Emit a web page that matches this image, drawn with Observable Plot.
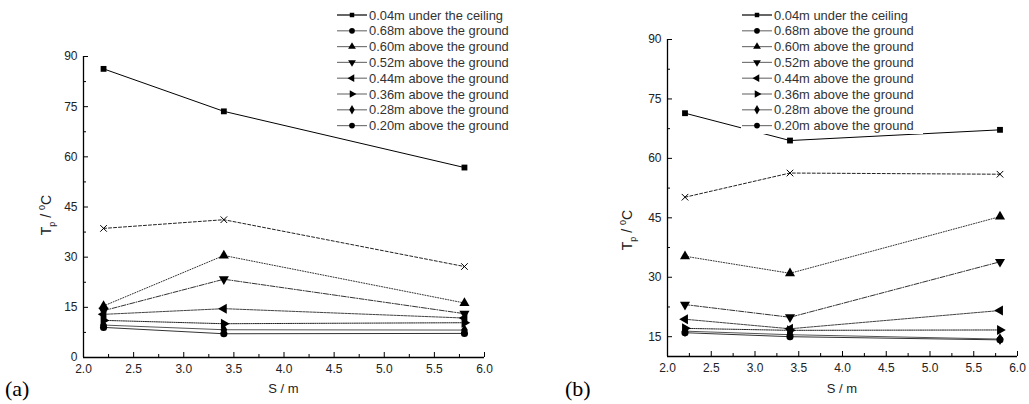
<!DOCTYPE html>
<html><head><meta charset="utf-8">
<script src="https://cdn.jsdelivr.net/npm/d3@7"></script>
<script src="https://cdn.jsdelivr.net/npm/@observablehq/plot@0.6"></script>
<style>
body{margin:0;background:#fff;}
#wrap{position:relative;width:1029px;height:404px;overflow:hidden;background:#fff;}
#wrap svg{position:absolute;overflow:visible;}
</style></head>
<body><div id="wrap"></div>
<script>
// ---- data ----
const S = [2.2, 3.4, 5.8];
const seriesNames = [
  "0.04m under the ceiling",
  "0.68m above the ground",
  "0.60m above the ground",
  "0.52m above the ground",
  "0.44m above the ground",
  "0.36m above the ground",
  "0.28m above the ground",
  "0.20m above the ground"
];
// panel (a)
const aCeiling = [86.3, 73.6, 56.8];
const a068 = [38.6, 41.2, 27.2];
const a060 = [15.4, 30.5, 16.3];
const a052 = [14.0, 23.4, 13.1];
const a044 = [12.9, 14.6, 11.8];
const a036 = [11.1, 10.1, 10.4];
const a028 = [9.7, 8.3, 8.2];
const a020 = [9.0, 7.1, 7.2];
// panel (b)
const bCeiling = [71.4, 64.5, 67.2];
const b068 = [50.2, 56.3, 56.0];
const b060 = [35.3, 31.0, 45.3];
const b052 = [23.1, 19.9, 33.9];
const b044 = [19.4, 17.0, 21.6];
const b036 = [17.1, 16.6, 16.7];
const b028 = [16.4, 15.5, 14.4];
const b020 = [16.0, 15.0, 14.2];
// ticks
const xTicks = [2.0, 2.5, 3.0, 3.5, 4.0, 4.5, 5.0, 5.5, 6.0];
const xMinor = [2.25, 2.75, 3.25, 3.75, 4.25, 4.75, 5.25, 5.75];
const yTicksA = [0, 15, 30, 45, 60, 75, 90];
const yMinorA = [7.5, 22.5, 37.5, 52.5, 67.5, 82.5];
const yTicksB = [15, 30, 45, 60, 75, 90];
const yMinorB = [22.5, 37.5, 52.5, 67.5, 82.5];

// ---- symbols ----
function tri(angle){
  return {draw(ctx, size){
    const y = -Math.sqrt(size / (Math.sqrt(3) * 3));
    const pts = [[0, 2*y], [-Math.sqrt(3)*y, -y], [Math.sqrt(3)*y, -y]];
    const c = Math.cos(angle), s = Math.sin(angle);
    pts.forEach(([px, py], i) => { const X = px*c - py*s, Y = px*s + py*c; i ? ctx.lineTo(X, Y) : ctx.moveTo(X, Y); });
    ctx.closePath();
  }};
}
const plotSymbols = [d3.symbolSquare, d3.symbolTimes, tri(0), tri(Math.PI), tri(-Math.PI/2), tri(Math.PI/2), d3.symbolDiamond, d3.symbolCircle];
const legendSymbols = [d3.symbolSquare, d3.symbolCircle, tri(0), tri(Math.PI), tri(-Math.PI/2), tri(Math.PI/2), d3.symbolDiamond, d3.symbolCircle];
const sizes = [34, 30, 44, 44, 44, 44, 40, 40];
const dashes = [null, "3,2", "1,1.6", "5,1.5,1,1.5", "2.5,1", "1.2,1", null, null];
const strokes = ["#000", "#222", "#333", "#333", "#444", "#222", "#555", "#333"];

const FONT = "'Liberation Sans', Arial, sans-serif";
const wrap = document.getElementById("wrap");

function makePanel(values, cfg){
  const marks = [];
  values.forEach((vals, i) => {
    const rows = S.map((s, j) => ({S: s, T: vals[j]}));
    marks.push(Plot.line(rows, {x: "S", y: "T", stroke: strokes[i], strokeWidth: 1, strokeDasharray: dashes[i]}));
  });
  values.forEach((vals, i) => {
    const rows = S.map((s, j) => ({S: s, T: vals[j]}));
    const r = Math.sqrt(sizes[i] / Math.PI);
    if (i === 1) marks.push(Plot.dot(rows, {x: "S", y: "T", symbol: plotSymbols[i], r, stroke: "#000", fill: "none", strokeWidth: 1}));
    else marks.push(Plot.dot(rows, {x: "S", y: "T", symbol: plotSymbols[i], r, fill: "#000", stroke: "none"}));
  });
  marks.push(Plot.ruleX([cfg.xDomain[0]], {stroke: "#000", strokeWidth: 1.3}));
  marks.push(Plot.ruleY([cfg.yDomain[0]], {stroke: "#000", strokeWidth: 1.3}));
  marks.push(Plot.axisX(xTicks, {tickSize: -5, tickPadding: 12, tickFormat: d3.format(".1f"), label: null, stroke: "#000"}));
  marks.push(Plot.axisX(xMinor, {tickSize: -3, tickFormat: () => "", label: null, stroke: "#000"}));
  marks.push(Plot.axisY(cfg.yTicks, {tickSize: -5, tickPadding: 11, tickFormat: d3.format("d"), label: null, stroke: "#000"}));
  marks.push(Plot.axisY(cfg.yMinor, {tickSize: -3, tickFormat: () => "", label: null, stroke: "#000"}));

  const svg = Plot.plot({
    width: cfg.width, height: 404,
    marginLeft: cfg.ml, marginRight: cfg.mr, marginTop: cfg.mt, marginBottom: cfg.mb,
    x: {domain: cfg.xDomain},
    y: {domain: cfg.yDomain},
    style: {fontFamily: FONT, fontSize: "12px", color: "#222", background: "transparent"},
    marks
  });
  svg.style.left = cfg.left + "px";
  svg.style.top = "0px";
  wrap.appendChild(svg);
  const s = d3.select(svg);
  // x label
  s.append("text").attr("x", (cfg.ml + cfg.width - cfg.mr) / 2).attr("y", 393)
    .attr("text-anchor", "middle").attr("font-family", FONT).attr("font-size", 13).attr("fill", "#222").text("S / m");
  // y label
  const yl = s.append("text").attr("transform", `translate(${cfg.ylx},${cfg.yly}) rotate(-90)`)
    .attr("text-anchor", "middle").attr("font-family", FONT).attr("font-size", 14).attr("fill", "#222");
  yl.append("tspan").text("T");
  yl.append("tspan").attr("font-size", 9).attr("dy", 4).text("p");
  yl.append("tspan").attr("dy", -4).text(" / ");
  yl.append("tspan").attr("font-size", 9).attr("dy", -6).text("0");
  yl.append("tspan").attr("dy", 6).text("C");
  // panel letter
  s.append("text").attr("x", cfg.letterX).attr("y", 396).attr("text-anchor", "start")
    .attr("font-family", "'Liberation Serif', 'Times New Roman', serif")
    .attr("font-size", 22).attr("fill", "#000").text(cfg.letter);

  // legend
  const lg = s.append("g").attr("transform", `translate(${cfg.legX},0)`).attr("text-anchor", "start");
  if (cfg.legBg) lg.append("rect").attr("x", -1).attr("y", 6).attr("width", 182).attr("height", 128).attr("fill", "#fff");
  seriesNames.forEach((name, i) => {
    const y = 15 + i * 15.8;
    lg.append("line").attr("x1", 0).attr("x2", 30).attr("y1", y).attr("y2", y)
      .attr("stroke", i === 0 ? "#000" : "#777").attr("stroke-width", 1.2);
    lg.append("path").attr("transform", `translate(15,${y})`)
      .attr("d", d3.symbol().type(legendSymbols[i]).size(i === 0 ? 20 : 26)()).attr("fill", "#000");
    lg.append("text").attr("x", 32).attr("y", y).attr("dy", "0.35em").attr("text-anchor", "start")
      .attr("font-family", FONT).attr("font-size", 12.9).attr("fill", "#333").text(name);
  });
}

makePanel([aCeiling, a068, a060, a052, a044, a036, a028, a020], {
  left: 0, width: 510, ml: 83, mr: 26, mt: 56, mb: 47,
  xDomain: [2, 6], yDomain: [0, 90], yTicks: yTicksA, yMinor: yMinorA,
  ylx: 51, yly: 215, letter: "(a)", letterX: 5, legX: 337, legBg: false
});
makePanel([bCeiling, b068, b060, b052, b044, b036, b028, b020], {
  left: 510, width: 519, ml: 157, mr: 12, mt: 39, mb: 48,
  xDomain: [2, 6], yDomain: [10, 90], yTicks: yTicksB, yMinor: yMinorB,
  ylx: 122, yly: 230, letter: "(b)", letterX: 55, legX: 232, legBg: true
});
</script></body></html>
